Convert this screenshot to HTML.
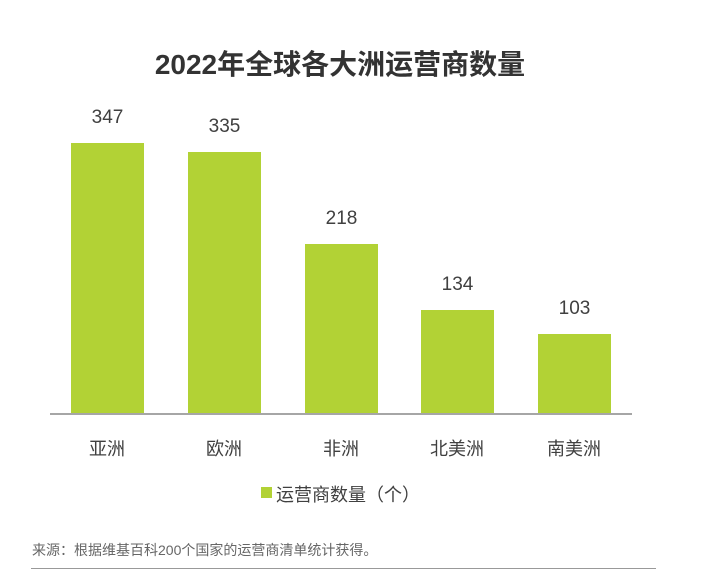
<!DOCTYPE html>
<html><head><meta charset="utf-8"><style>
body{margin:0;width:712px;height:571px;background:#fff;position:relative;overflow:hidden;font-family:"Liberation Sans","Noto Sans CJK SC",sans-serif;color:#404040}
.a{position:absolute}
.bar{position:absolute;background:#b2d235;width:73px}
.v{position:absolute;width:73px;text-align:center;font-size:19px;color:#404040}
.c{position:absolute;width:120px;text-align:center;font-size:18px;top:435px}
</style></head><body>
<div class="a" style="left:0;width:680px;top:43px;text-align:center;font-size:28px;font-weight:bold;color:#333">2022年全球各大洲运营商数量</div>
<div class="bar" style="left:71px;top:143px;height:271px"></div>
<div class="bar" style="left:188px;top:152px;height:262px"></div>
<div class="bar" style="left:305px;top:244px;height:170px"></div>
<div class="bar" style="left:421px;top:310px;height:104px"></div>
<div class="bar" style="left:538px;top:334px;height:80px"></div>
<div class="v" style="left:71px;top:107px">347</div>
<div class="v" style="left:188px;top:116px">335</div>
<div class="v" style="left:305px;top:208px">218</div>
<div class="v" style="left:421px;top:274px">134</div>
<div class="v" style="left:538px;top:298px">103</div>
<div class="a" style="left:50px;top:413px;width:582px;height:2px;background:#a6a6a6"></div>
<div class="c" style="left:47px">亚洲</div>
<div class="c" style="left:164px">欧洲</div>
<div class="c" style="left:281px">非洲</div>
<div class="c" style="left:397px">北美洲</div>
<div class="c" style="left:514px">南美洲</div>
<div class="a" style="left:261px;top:487px;width:11px;height:11px;background:#b2d235"></div>
<div class="a" style="left:276px;top:481px;font-size:18px">运营商数量（个）</div>
<div class="a" style="left:32px;top:540px;font-size:14px;color:#666">来源：根据维基百科200个国家的运营商清单统计获得。</div>
<div class="a" style="left:31px;top:568px;width:625px;height:1px;background:#999"></div>
</body></html>
